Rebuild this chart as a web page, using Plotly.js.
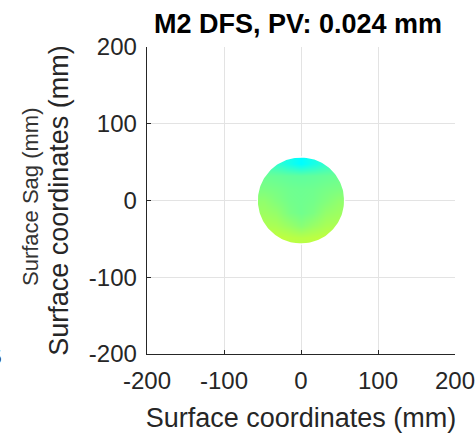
<!DOCTYPE html>
<html>
<head>
<meta charset="utf-8">
<script src="https://cdn.plot.ly/plotly-3.0.1.min.js"></script>
<style>html,body{margin:0;padding:0;background:#fff;}#chart{width:476px;height:433px;}</style>
</head>
<body>
<div id="chart"></div>
<script>
// Surface sample positions (mm)
const xCoords = [-48, -32, -16, 0, 16, 32, 48];
const yCoords = [-48, -32, -16, 0, 16, 32, 48];
// Surface sag (mm), rows from bottom (y=-48) to top (y=48)
const sagRows = [
  [0.0240, 0.0240, 0.0233, 0.0228, 0.0233, 0.0240, 0.0240],
  [0.0216, 0.0211, 0.0192, 0.0173, 0.0192, 0.0211, 0.0216],
  [0.0197, 0.0187, 0.0158, 0.0145, 0.0158, 0.0187, 0.0197],
  [0.0182, 0.0165, 0.0148, 0.0143, 0.0148, 0.0165, 0.0182],
  [0.0158, 0.0152, 0.0143, 0.0140, 0.0143, 0.0152, 0.0158],
  [0.0138, 0.0133, 0.0127, 0.0124, 0.0127, 0.0133, 0.0138],
  [0.0090, 0.0070, 0.0038, 0.0010, 0.0038, 0.0070, 0.0090]
];
const apertureRadius = 56; // mm
const colorLimits = [-0.0438, 0.0762];
const axisTicks = [-200, -100, 0, 100, 200];
const axisTickText = ['-200', '-100', '0', '100', '200'];

const jet = [[0, '#000080'], [0.125, '#0000FF'], [0.375, '#00FFFF'], [0.625, '#FFFF00'], [0.875, '#FF0000'], [1, '#800000']];

// aperture mask (white outside circle, slightly beyond the sample square)
const R = apertureRadius;
const S = R + 1.5;
const mx = [R, S, S, -S, -S, S, S, R];
const my = [0, 0, -S, -S, S, S, 0, 0];
const N = 180;
for (let i = 0; i <= N; i++) {
  const a = 2 * Math.PI * i / N;
  mx.push(R * Math.cos(a));
  my.push(R * Math.sin(a));
}

const font = 'Liberation Sans, Arial, sans-serif';
const ink = '#262626';

const traces = [
  {
    type: 'heatmap', x: xCoords, y: yCoords, z: sagRows,
    zmin: colorLimits[0], zmax: colorLimits[1], colorscale: jet,
    zsmooth: 'best', showscale: false, hoverinfo: 'skip'
  },
  {
    type: 'scatter', mode: 'lines', x: mx, y: my, fill: 'toself',
    fillcolor: '#ffffff', line: {width: 0, color: 'rgba(0,0,0,0)'},
    hoverinfo: 'skip', showlegend: false
  }
];

const axisCommon = {
  range: [-200, 200], tickvals: axisTicks, ticktext: axisTickText,
  showgrid: true, gridcolor: '#e3e3e3', gridwidth: 1, zeroline: false,
  showline: true, linecolor: ink, linewidth: 1.3, mirror: false,
  ticks: 'inside', ticklen: 4, tickcolor: ink, tickwidth: 1,
  tickfont: {family: font, size: 24, color: ink}, fixedrange: true
};

const layout = {
  width: 476, height: 433,
  margin: {l: 147, r: 21, t: 47, b: 79},
  paper_bgcolor: '#ffffff', plot_bgcolor: '#ffffff',
  showlegend: false,
  title: {
    text: 'M2 DFS, PV: 0.024 mm',
    font: {family: font, size: 27, color: '#000000', weight: 'bold'},
    x: 298 / 476, xanchor: 'center', xref: 'container',
    y: 1 - 24 / 433, yanchor: 'middle', yref: 'container'
  },
  xaxis: Object.assign({}, axisCommon, {
    ticklabelstandoff: 5,
    title: {text: 'Surface coordinates (mm)', font: {family: font, size: 27, color: ink}, standoff: 16}
  }),
  yaxis: Object.assign({}, axisCommon, {
    ticklabelstandoff: 4,
    title: {text: 'Surface coordinates (mm)', font: {family: font, size: 27, color: ink}, standoff: 12}
  }),
  annotations: [
    {text: 'Surface Sag (mm)', textangle: -90, xref: 'paper', yref: 'paper',
     x: (30 - 147) / 308, y: (354 - 197) / 307, xanchor: 'center', yanchor: 'middle',
     showarrow: false, font: {family: font, size: 22, color: '#333333'}},
    {text: '5', xref: 'paper', yref: 'paper',
     x: (4 - 147) / 308, y: (354 - 356) / 307, xanchor: 'right', yanchor: 'middle',
     showarrow: false, font: {family: font, size: 21, color: '#333333'}}
  ]
};

Plotly.newPlot('chart', traces, layout, {displayModeBar: false, staticPlot: true});
</script>
</body>
</html>
